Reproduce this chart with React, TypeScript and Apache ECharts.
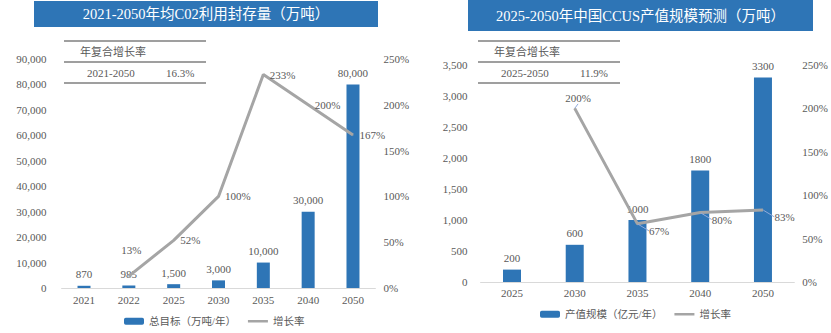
import React, { useEffect, useRef } from "react";
import * as echarts from "echarts";

const leftTitle = "2021-2050年均C02利用封存量（万吨）";
const leftYears = ["2021", "2022", "2025", "2030", "2035", "2040", "2050"];
const leftTotals = [870, 985, 1500, 3000, 10000, 30000, 80000];
const leftGrowth = [null, 13, 52, 100, 233, 200, 167];
const leftBarName = "总目标（万吨/年）";
const leftCagrPeriod = "2021-2050";
const leftCagr = "16.3%";

const rightTitle = "2025-2050年中国CCUS产值规模预测（万吨）";
const rightYears = ["2025", "2030", "2035", "2040", "2050"];
const rightValues = [200, 600, 1000, 1800, 3300];
const rightGrowth = [null, 200, 67, 80, 83];
const rightBarName = "产值规模（亿元/年）";
const cagrHeader = "年复合增长率";
const rightCagrPeriod = "2025-2050";
const rightCagr = "11.9%";
const growthName = "增长率";

const BLUE = "#2E75B6";
const GRAY = "#A5A5A5";
const TXT = "#595959";
const FONT = "'Liberation Serif', 'Noto Sans CJK SC', serif";
const LINE_ICON = "path://M0,0H40V5H0Z";

const fmt = (v: number) => v.toLocaleString("en-US");

function table(x: number, header: string, period: string, cagr: string) {
  const line = (y: number) => ({
    type: "line",
    shape: { x1: x, y1: y, x2: x + 142, y2: y },
    style: { stroke: "#404040", lineWidth: 1.2 },
  });
  const t = (tx: number, ty: number, text: string) => ({
    type: "text",
    x: tx,
    y: ty,
    style: { text, fill: TXT, font: `11px ${FONT}`, verticalAlign: "middle" },
  });
  return [
    line(41),
    line(62),
    line(83),
    t(x + 16, 52, header),
    t(x + 23, 73, period),
    t(x + 102, 73, cagr),
  ];
}

function titleBox(x: number, y: number, w: number, h: number, text: string) {
  return [
    { type: "rect", shape: { x, y, width: w, height: h }, style: { fill: BLUE } },
    {
      type: "text",
      x: x + w / 2,
      y: y + h / 2,
      style: {
        text,
        fill: "#fff",
        font: `14.5px ${FONT}`,
        align: "center",
        verticalAlign: "middle",
      },
    },
  ];
}

export default function App() {
  const ref = useRef<HTMLDivElement>(null);
  useEffect(() => {
    document.body.style.margin = "0";
    const chart = echarts.init(ref.current!, null, { renderer: "svg" });
    const axisLabel = { color: TXT, fontFamily: FONT, fontSize: 11 };
    const labelStyle = { color: TXT, fontFamily: FONT, fontSize: 11 };
    chart.setOption({
      animation: false,
      textStyle: { fontFamily: FONT },
      grid: [
        { left: 61.6, top: 59, width: 313.8, height: 229 },
        { left: 480.6, top: 65, width: 313.8, height: 217 },
      ],
      legend: [
        {
          left: 119,
          top: 311,
          itemWidth: 20,
          itemHeight: 7,
          itemGap: 12,
          textStyle: { color: TXT, fontFamily: FONT, fontSize: 10.5 },
          data: [leftBarName, { name: growthName + " ", icon: LINE_ICON }],
          formatter: (n: string) => n.trim(),
        },
        {
          left: 535,
          top: 304,
          itemWidth: 20,
          itemHeight: 7,
          itemGap: 12,
          textStyle: { color: TXT, fontFamily: FONT, fontSize: 10.5 },
          data: [rightBarName, { name: growthName, icon: LINE_ICON }],
        },
      ],
      xAxis: [
        {
          type: "category",
          gridIndex: 0,
          data: leftYears,
          axisLine: { lineStyle: { color: "#D9D9D9" } },
          axisTick: { show: false },
          axisLabel: { ...axisLabel, margin: 6 },
        },
        {
          type: "category",
          gridIndex: 1,
          data: rightYears,
          axisLine: { lineStyle: { color: "#D9D9D9" } },
          axisTick: { show: false },
          axisLabel: { ...axisLabel, margin: 5 },
        },
      ],
      yAxis: [
        {
          type: "value",
          gridIndex: 0,
          min: 0,
          max: 90000,
          interval: 10000,
          splitLine: { show: false },
          axisLabel: { ...axisLabel, margin: 15, formatter: (v: number) => fmt(v) },
        },
        {
          type: "value",
          gridIndex: 0,
          position: "right",
          min: 0,
          max: 250,
          interval: 50,
          splitLine: { show: false },
          axisLabel: { ...axisLabel, margin: 8, formatter: "{value}%" },
        },
        {
          type: "value",
          gridIndex: 1,
          min: 0,
          max: 3500,
          interval: 500,
          splitLine: { show: false },
          axisLabel: { ...axisLabel, margin: 13, formatter: (v: number) => fmt(v) },
        },
        {
          type: "value",
          gridIndex: 1,
          position: "right",
          min: 0,
          max: 250,
          interval: 50,
          splitLine: { show: false },
          axisLabel: { ...axisLabel, margin: 8, formatter: "{value}%" },
        },
      ],
      series: [
        {
          name: leftBarName,
          type: "bar",
          xAxisIndex: 0,
          yAxisIndex: 0,
          data: leftTotals,
          barWidth: 13,
          itemStyle: { color: BLUE },
          label: {
            show: true,
            position: "top",
            distance: 6,
            ...labelStyle,
            formatter: (p: any) => fmt(p.value),
          },
        },
        {
          name: growthName + " ",
          type: "line",
          xAxisIndex: 0,
          yAxisIndex: 1,
          data: leftGrowth,
          symbol: "circle",
          symbolSize: 1,
          showSymbol: true,
          lineStyle: { color: GRAY, width: 3 },
          itemStyle: { color: GRAY },
          label: {
            show: true,
            position: "right",
            distance: 6,
            ...labelStyle,
            formatter: "{c}%",
          },
          labelLayout: (p: any) => (p.dataIndex === 1 ? { dx: -14, dy: -26 } : { dx: 0 }),
        },
        {
          name: rightBarName,
          type: "bar",
          xAxisIndex: 1,
          yAxisIndex: 2,
          data: rightValues,
          barWidth: 18,
          itemStyle: { color: BLUE },
          label: { show: true, position: "top", distance: 6, ...labelStyle },
        },
        {
          name: growthName,
          type: "line",
          xAxisIndex: 1,
          yAxisIndex: 3,
          data: rightGrowth,
          symbol: "circle",
          symbolSize: 1,
          showSymbol: true,
          lineStyle: { color: GRAY, width: 3 },
          itemStyle: { color: GRAY },
          label: {
            show: true,
            position: "right",
            distance: 3,
            ...labelStyle,
            formatter: "{c}%",
          },
          labelLine: { show: true, lineStyle: { color: "#8FAADC", width: 1 } },
          labelLayout: (p: any) =>
            p.dataIndex === 1 ? { dx: -13, dy: -10 } : { dx: 8, dy: 7 },
        },
      ],
      graphic: [
        ...titleBox(34, 1, 344, 26, leftTitle),
        ...titleBox(468, 0, 345, 31, rightTitle),
        ...table(64, cagrHeader, leftCagrPeriod, leftCagr),
        ...table(478, cagrHeader, rightCagrPeriod, rightCagr),
      ],
    });
    return () => chart.dispose();
  }, []);
  return (
    <div
      ref={ref}
      style={{ position: "absolute", left: 0, top: 0, width: 831, height: 333, background: "#fff" }}
    />
  );
}
